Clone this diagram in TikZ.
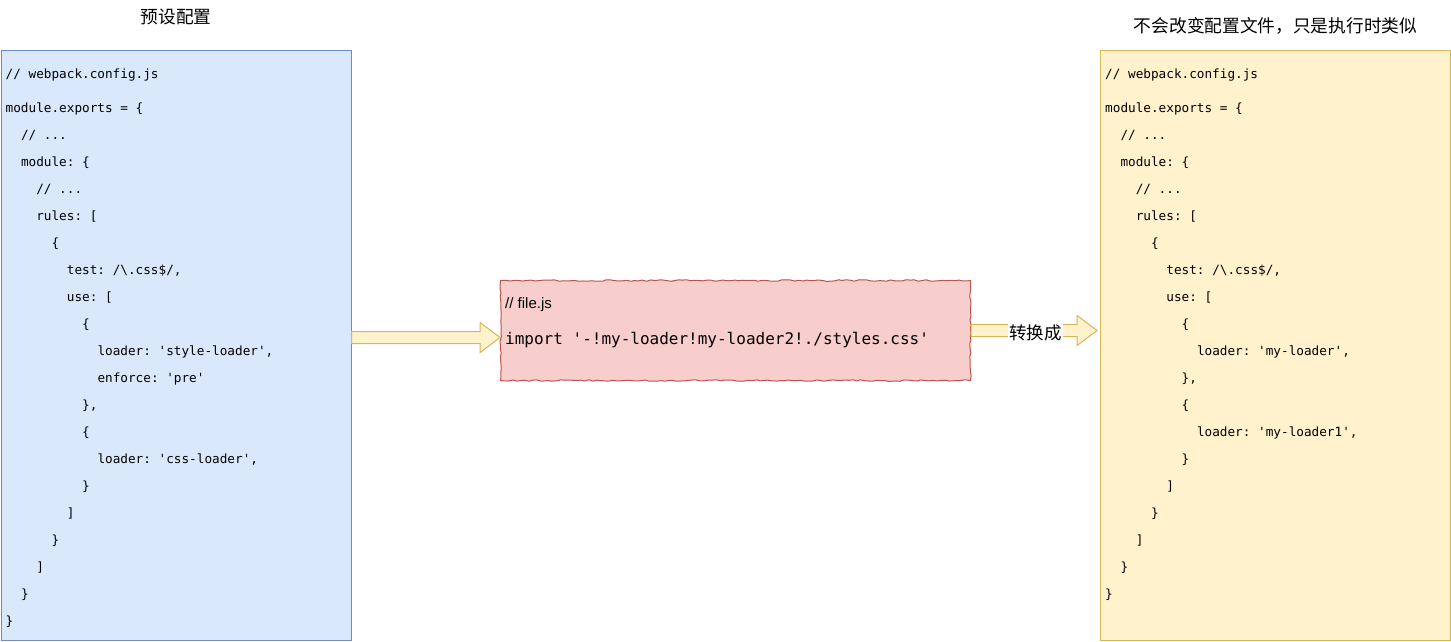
\documentclass[tikz,border=0pt]{standalone}
\usepackage{fontspec}
\setmainfont{Liberation Sans}
\setmonofont{DejaVu Sans Mono}
\newfontfamily\cjkfont{Noto Sans CJK SC}
\usetikzlibrary{positioning, calc, decorations.pathmorphing}
\definecolor{blueFill}{HTML}{DAE8FC}
\definecolor{blueLine}{HTML}{6C8EBF}
\definecolor{yellowFill}{HTML}{FFF2CC}
\definecolor{yellowLine}{HTML}{D6B656}
\definecolor{redFill}{HTML}{F8CECC}
\definecolor{redLine}{HTML}{B85450}
\tikzstyle{config_box} = [rectangle, line width=1pt, minimum width=350pt, minimum height=590pt, inner sep=0pt, anchor=north west]
\tikzstyle{code_text} = [align=left, inner sep=0pt, anchor=north west, font=\ttfamily\fontsize{12.7}{27}\selectfont]
\tikzstyle{file_box} = [rectangle, draw=redLine, fill=redFill, line width=1pt, minimum width=470pt, minimum height=100pt, anchor=north west, decorate, decoration={random steps, segment length=4pt, amplitude=0.8pt}]
\tikzstyle{block_arrow} = [draw=yellowLine, fill=yellowFill, line width=1pt, line join=miter]
\tikzstyle{title_text} = [font=\cjkfont\fontsize{17.7}{20}\selectfont, inner sep=0pt]
\tikzstyle{arrow_label} = [font=\cjkfont\fontsize{17.5}{20}\selectfont, fill=white, inner sep=1pt]
% indentation: two monospace characters per level
\newcommand{\ind}[1]{\hspace*{#1\dimexpr 15.3pt\relax}}
% block arrow from #1 to #2 (tip at #2)
\newcommand{\blockarrow}[2]{\draw[block_arrow] ($(#1)+(0,-6)$) -- ($(#2)+(-20,-6)$) -- ($(#2)+(-20,-15)$) -- (#2) -- ($(#2)+(-20,15)$) -- ($(#2)+(-20,6)$) -- ($(#1)+(0,6)$) -- cycle;}
\begin{document}
\begin{tikzpicture}[x=1pt, y=-1pt]
\useasboundingbox (0,0) rectangle (1451,642);
\node (preset) [config_box, draw=blueLine, fill=blueFill] at (0.5,50) {};
\node (filejs) [file_box] at (500,280) {};
\node (result) [config_box, draw=yellowLine, fill=yellowFill] at (1100,50) {};

% Ueberschriften
\node (preset_title) [title_text] at ($(preset.north)+(0,-33.5)$) {预设配置};
\node (result_title) [title_text] at ($(result.north)+(0,-24.5)$) {不会改变配置文件，只是执行时类似};

\node (preset_code) [code_text] at ($(preset.north west)+(5,18.5)$) {%
// webpack.config.js\\[7pt]
module.exports = \{\\
\ind{1}// ...\\
\ind{1}module: \{\\
\ind{2}// ...\\
\ind{2}rules: [\\
\ind{3}\{\\
\ind{4}test: /\textbackslash.css\$/,\\
\ind{4}use: [\\
\ind{5}\{\\
\ind{6}loader: 'style-loader',\\
\ind{6}enforce: 'pre'\\
\ind{5}\},\\
\ind{5}\{\\
\ind{6}loader: 'css-loader',\\
\ind{5}\}\\
\ind{4}]\\
\ind{3}\}\\
\ind{2}]\\
\ind{1}\}\\
\}};

\node (result_code) [code_text] at ($(result.north west)+(5,18.5)$) {%
// webpack.config.js\\[7pt]
module.exports = \{\\
\ind{1}// ...\\
\ind{1}module: \{\\
\ind{2}// ...\\
\ind{2}rules: [\\
\ind{3}\{\\
\ind{4}test: /\textbackslash.css\$/,\\
\ind{4}use: [\\
\ind{5}\{\\
\ind{6}loader: 'my-loader',\\
\ind{5}\},\\
\ind{5}\{\\
\ind{6}loader: 'my-loader1',\\
\ind{5}\}\\
\ind{4}]\\
\ind{3}\}\\
\ind{2}]\\
\ind{1}\}\\
\}};

\node (filejs_title) [anchor=base west, inner sep=0pt, font=\fontsize{15}{18}\selectfont] at ($(filejs.north west)+(5,28.5)$) {// file.js};
\node (filejs_code) [anchor=base west, inner sep=0pt, font=\ttfamily\fontsize{16}{20}\selectfont] at ($(filejs.north west)+(5,64.5)$) {import '-!my-loader!my-loader2!./styles.css'};

% Pfeile
\coordinate (arrow1_start) at ($(preset.east)+(0,-8)$);
\coordinate (arrow1_end) at ($(filejs.west)+(0,7)$);
\blockarrow{arrow1_start}{arrow1_end}
\coordinate (arrow2_end) at ($(result.west)+(-3,-15)$);
\blockarrow{filejs.east}{arrow2_end}
\node (arrow2_label) [arrow_label] at ($($(filejs.east)!0.5!(arrow2_end)$)+(1.5,2.5)$) {转换成};
\end{tikzpicture}
\end{document}
